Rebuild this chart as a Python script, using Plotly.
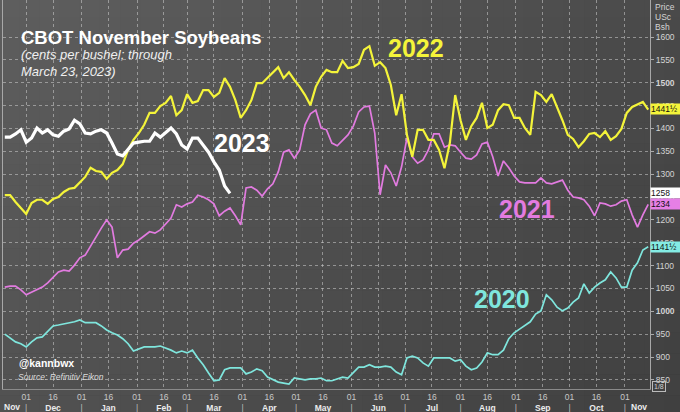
import pandas as pd
import plotly.graph_objects as go

# ---------------- data (cents per bushel), sampled every 3 days on a seasonal axis ----------------
start_date = "2022-11-19"
step = "3D"

yellow_2022 = [1254, 1254, 1239, 1226, 1213, 1237, 1244, 1244, 1235, 1246,
               1250, 1261, 1268, 1270, 1283, 1294, 1314, 1307, 1305, 1290,
               1303, 1309, 1322, 1353, 1375, 1390, 1408, 1434, 1434, 1449,
               1456, 1471, 1429, 1440, 1475, 1456, 1460, 1484, 1484, 1469,
               1478, 1510, 1491, 1462, 1423, 1440, 1462, 1499, 1499, 1510,
               1523, 1534, 1510, 1523, 1506, 1491, 1473, 1451, 1491, 1513,
               1528, 1523, 1523, 1548, 1532, 1534, 1541, 1572, 1580, 1537,
               1545, 1532, 1495, 1429, 1475, 1386, 1338, 1397, 1397, 1375,
               1375, 1353, 1313, 1368, 1473, 1418, 1375, 1405, 1423, 1456,
               1401, 1408, 1440, 1453, 1451, 1423, 1423, 1401, 1386, 1480,
               1473, 1458, 1475, 1447, 1418, 1386, 1377, 1359, 1372, 1388,
               1390, 1381, 1394, 1375, 1383, 1399, 1434, 1447, 1453, 1458, 1441]

magenta_2021 = [1053, 1055, 1055, 1047, 1036, 1042, 1047, 1053, 1062, 1073,
                1086, 1090, 1088, 1101, 1117, 1123, 1143, 1165, 1182, 1200,
                1184, 1117, 1134, 1136, 1149, 1156, 1165, 1174, 1171, 1178,
                1191, 1204, 1233, 1228, 1235, 1239, 1254, 1250, 1244, 1235,
                1209, 1219, 1226, 1209, 1189, 1270, 1272, 1265, 1252, 1268,
                1279, 1305, 1348, 1353, 1335, 1353, 1408, 1432, 1440, 1401,
                1397, 1368, 1362, 1375, 1386, 1405, 1436, 1447, 1449, 1390,
                1255, 1320, 1303, 1274, 1316, 1379, 1338, 1324, 1331, 1353,
                1388, 1388, 1359, 1364, 1362, 1348, 1335, 1333, 1342, 1366,
                1370, 1338, 1296, 1329, 1314, 1296, 1283, 1281, 1281, 1281,
                1292, 1281, 1279, 1283, 1287, 1265, 1250, 1248, 1244, 1230,
                1209, 1237, 1235, 1230, 1233, 1241, 1244, 1211, 1184, 1211, 1234]

cyan_2020 = [950, 942, 933, 929, 922, 933, 942, 944, 957, 968,
             970, 972, 975, 977, 981, 975, 975, 975, 968, 959,
             953, 948, 940, 929, 913, 918, 922, 922, 922, 924,
             920, 915, 909, 913, 909, 915, 898, 883, 865, 848,
             850, 872, 876, 876, 876, 863, 867, 874, 870, 856,
             850, 845, 843, 841, 854, 852, 850, 852, 852, 854,
             848, 848, 852, 856, 854, 867, 878, 878, 883, 878,
             878, 880, 878, 867, 861, 898, 902, 898, 887, 880,
             898, 898, 898, 898, 891, 894, 880, 872, 876, 889,
             909, 905, 905, 915, 940, 953, 961, 970, 977, 994,
             1001, 1036, 1025, 1009, 1001, 1007, 1020, 1029, 1060, 1040,
             1053, 1062, 1069, 1086, 1073, 1053, 1053, 1090, 1106, 1134, 1141]

white_2023 = [1381, 1381, 1388, 1397, 1370, 1379, 1401, 1390, 1397, 1386,
              1383, 1394, 1399, 1418, 1410, 1390, 1388, 1394, 1397, 1390,
              1368, 1344, 1340, 1355, 1368, 1370, 1372, 1372, 1390, 1381,
              1390, 1401, 1388, 1364, 1355, 1379, 1379, 1364, 1348, 1327,
              1309, 1274, 1258]

months = ["Dec", "Jan", "Feb", "Mar", "Apr", "May", "Jun", "Jul", "Aug", "Sep", "Oct"]
month_starts = ["2022-12-01", "2023-01-01", "2023-02-01", "2023-03-01", "2023-04-01",
                "2023-05-01", "2023-06-01", "2023-07-01", "2023-08-01", "2023-09-01",
                "2023-10-01", "2023-11-01"]
y_ticks = [850, 900, 950, 1000, 1050, 1100, 1150, 1200, 1250, 1300, 1350, 1400,
           1450, 1500, 1550, 1600]

last_labels = [("1441½", 1441.5, "#f4f43a"), ("1258", 1258, "#ffffff"),
               ("1234", 1234, "#e67fe6"), ("1141½", 1141.5, "#84ece4")]

# ---------------- figure ----------------
FONT = "Liberation Sans, Arial, sans-serif"
dates = pd.date_range(start_date, periods=len(yellow_2022), freq=step)

fig = go.Figure()

C_YEL = "#f4f43a"
C_MAG = "#e27be0"
C_CYA = "#7fe6dd"

fig.add_trace(go.Scatter(x=dates, y=cyan_2020, mode="lines",
                         line=dict(color=C_CYA, width=1.7), hoverinfo="skip"))
fig.add_trace(go.Scatter(x=dates, y=magenta_2021, mode="lines",
                         line=dict(color=C_MAG, width=1.7), hoverinfo="skip"))
fig.add_trace(go.Scatter(x=dates, y=yellow_2022, mode="lines",
                         line=dict(color=C_YEL, width=2.2), hoverinfo="skip"))
fig.add_trace(go.Scatter(x=dates[:len(white_2023)], y=white_2023, mode="lines",
                         line=dict(color="#ffffff", width=3.2), hoverinfo="skip"))

# x ticks: 01 and 16 of each month
tickvals, ticktext = [], []
for i, ms in enumerate(month_starts):
    d = pd.Timestamp(ms)
    tickvals.append(d)
    ticktext.append("01<br><span style='color:#bdbdbd'>|</span>")
    if i < len(months):
        tickvals.append(d + pd.Timedelta(days=15))
        ticktext.append("16<br><b><span style='color:#ececec'>%s</span></b>" % months[i])

ytext = [("<b>%d</b>" % v) if v in (1000, 1500) else str(v) for v in y_ticks]

# background gradient
shapes = []
NV = 34
for k in range(NV):
    c = int(round(94 - 20 * k / (NV - 1)))
    x0 = -0.006 + k * (1.06 / NV)
    shapes.append(dict(type="rect", xref="paper", yref="paper", x0=x0, x1=x0 + 1.06 / NV + 0.002,
                       y0=-0.07, y1=1.01, line=dict(width=0),
                       fillcolor="rgb(%d,%d,%d)" % (c, c, c), layer="below"))
NH = 20
for k in range(NH):
    a = 0.13 * k / (NH - 1)
    y1 = 1.01 - k * (1.08 / NH)
    shapes.append(dict(type="rect", xref="paper", yref="paper", x0=-0.01, x1=1.06,
                       y0=y1 - 1.08 / NH - 0.001, y1=y1, line=dict(width=0),
                       fillcolor="rgba(0,0,0,%.3f)" % a, layer="below"))

fig.update_layout(
    width=680, height=412,
    margin=dict(l=3, r=30, t=0, b=23),
    paper_bgcolor="#505050",
    plot_bgcolor="rgba(0,0,0,0)",
    showlegend=False,
    shapes=shapes,
    font=dict(family=FONT, color="#d0d0d0"),
)

fig.update_xaxes(
    type="date",
    range=["2022-11-18", "2023-11-15"],
    tickvals=tickvals, ticktext=ticktext,
    tickfont=dict(size=8.5, color="#c8c8c8", family=FONT),
    ticks="", showgrid=True, gridcolor="rgba(205,205,205,0.55)", griddash="dot", gridwidth=1,
    showline=True, linecolor="#8a8a8a", linewidth=1, zeroline=False,
)
fig.update_yaxes(
    side="right", range=[830, 1681],
    tickvals=y_ticks, ticktext=ytext,
    tickfont=dict(size=8.5, color="#d4d4d4", family=FONT),
    ticks="outside", ticklen=3, tickcolor="#aaaaaa",
    showgrid=True, gridcolor="rgba(205,205,205,0.55)", griddash="dot", gridwidth=1,
    showline=True, linecolor="#a8a8a8", linewidth=1, mirror=True, zeroline=False,
)

def px_x(px):
    return (px - 3) / 647.0

def px_y(py):
    return (389 - py) / 389.0

ann = []
ann.append(dict(text="<b>CBOT November Soybeans</b>", x=px_x(19), y=px_y(37), xanchor="left",
                yanchor="middle", font=dict(size=18.5, color="#ffffff", family=FONT)))
ann.append(dict(text="<i>(cents per bushel; through</i>", x=px_x(19), y=px_y(55), xanchor="left",
                yanchor="middle", font=dict(size=13, color="#f0f0f0", family=FONT)))
ann.append(dict(text="<i>March 23, 2023)</i>", x=px_x(19), y=px_y(71), xanchor="left",
                yanchor="middle", font=dict(size=13, color="#f0f0f0", family=FONT)))
ann.append(dict(text="<b>2022</b>", x=px_x(416), y=px_y(48), xanchor="center", yanchor="middle",
                font=dict(size=25, color=C_YEL, family=FONT)))
ann.append(dict(text="<b>2023</b>", x=px_x(242), y=px_y(143), xanchor="center", yanchor="middle",
                font=dict(size=25, color="#ffffff", family=FONT)))
ann.append(dict(text="<b>2021</b>", x=px_x(527), y=px_y(209), xanchor="center", yanchor="middle",
                font=dict(size=25, color=C_MAG, family=FONT)))
ann.append(dict(text="<b>2020</b>", x=px_x(502), y=px_y(299), xanchor="center", yanchor="middle",
                font=dict(size=25, color=C_CYA, family=FONT)))
ann.append(dict(text="<b>@kannbwx</b>", x=px_x(17), y=px_y(363), xanchor="left", yanchor="middle",
                font=dict(size=10.5, color="#ffffff", family=FONT)))
ann.append(dict(text="<i>Source: Refinitiv Eikon</i>", x=px_x(16), y=px_y(377), xanchor="left",
                yanchor="middle", font=dict(size=8.5, color="#dcdcdc", family=FONT)))
# axis header
for txt, py in (("Price", 7), ("USc", 17), ("Bsh", 27)):
    ann.append(dict(text=txt, x=px_x(653), y=px_y(py), xanchor="left", yanchor="middle",
                    font=dict(size=8.5, color="#d4d4d4", family=FONT)))
# month labels at edges
ann.append(dict(text="<b>Nov</b>", x=px_x(12), y=px_y(407), xanchor="center", yanchor="middle",
                font=dict(size=8.5, color="#ececec", family=FONT)))
ann.append(dict(text="<b>Nov</b>", x=px_x(639), y=px_y(407), xanchor="center", yanchor="middle",
                font=dict(size=8.5, color="#ececec", family=FONT)))
# last value tags
for txt, val, col in last_labels:
    ann.append(dict(text=txt, xref="paper", yref="y", x=1.0, y=val, xanchor="left",
                    yanchor="middle", align="left", bgcolor=col, borderpad=0, width=29, height=10,
                    font=dict(size=8.5, color="#111111", family=FONT)))
ann.append(dict(text="1/8", x=px_x(659), y=px_y(386), xanchor="center", yanchor="middle",
                bordercolor="#bbbbbb", borderwidth=1, borderpad=1,
                font=dict(size=7, color="#d0d0d0", family=FONT)))

for a in ann:
    a.setdefault("xref", "paper")
    a.setdefault("yref", "paper")
    a["showarrow"] = False
fig.update_layout(annotations=ann)

fig.write_html("out.html", config={"displayModeBar": False},
               post_script="document.body.style.margin='0';document.body.style.overflow='hidden';")
